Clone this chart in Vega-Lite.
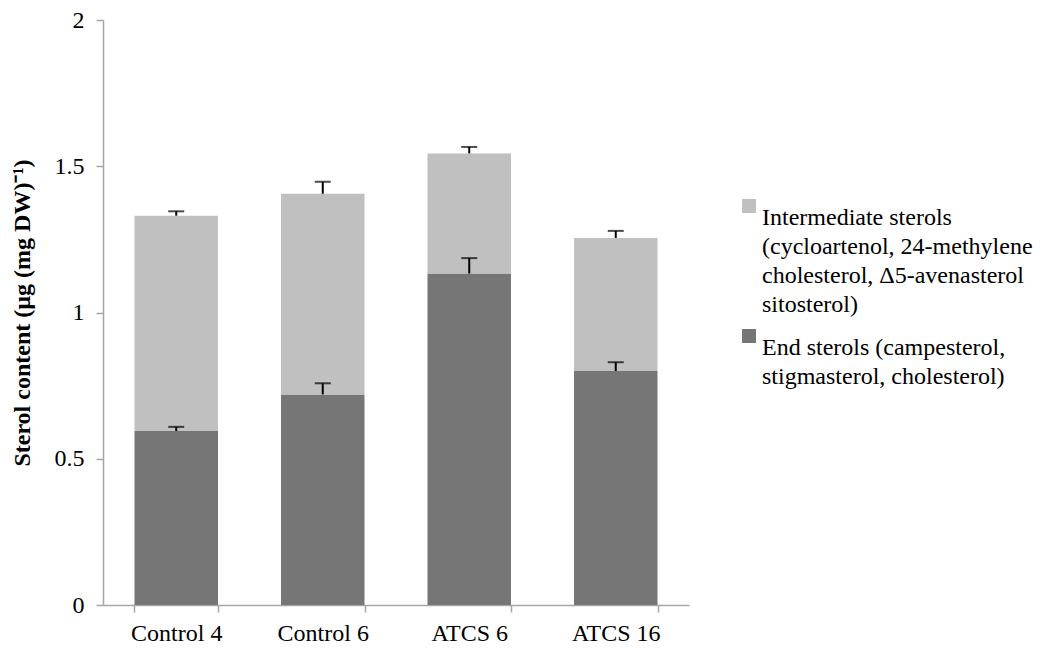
{
  "$schema": "https://vega.github.io/schema/vega-lite/v6.json",
  "width": 586,
  "height": 585,
  "autosize": {"type": "none"},
  "padding": {"left": 103, "top": 20, "right": 366, "bottom": 45},
  "background": "white",
  "config": {
    "font": "Times New Roman",
    "view": {"stroke": null},
    "style": {"guide-label": {"lineHeight": 29}},
    "axis": {"labelColor": "#000000", "domainColor": "#a6a6a6", "tickColor": "#a6a6a6", "domainWidth": 1.5, "tickWidth": 1.5, "grid": false},
    "legend": {"labelColor": "#000000"}
  },
  "datasets": {
    "bars": [
      {"group": "Control 4", "type": "End sterols (campesterol, stigmasterol, cholesterol)", "rank": 1, "value": 0.595},
      {"group": "Control 4", "type": "Intermediate sterols (cycloartenol, 24-methylene cholesterol, Δ5-avenasterol sitosterol)", "rank": 2, "value": 0.736},
      {"group": "Control 6", "type": "End sterols (campesterol, stigmasterol, cholesterol)", "rank": 1, "value": 0.72},
      {"group": "Control 6", "type": "Intermediate sterols (cycloartenol, 24-methylene cholesterol, Δ5-avenasterol sitosterol)", "rank": 2, "value": 0.686},
      {"group": "ATCS 6", "type": "End sterols (campesterol, stigmasterol, cholesterol)", "rank": 1, "value": 1.133},
      {"group": "ATCS 6", "type": "Intermediate sterols (cycloartenol, 24-methylene cholesterol, Δ5-avenasterol sitosterol)", "rank": 2, "value": 0.411},
      {"group": "ATCS 16", "type": "End sterols (campesterol, stigmasterol, cholesterol)", "rank": 1, "value": 0.80},
      {"group": "ATCS 16", "type": "Intermediate sterols (cycloartenol, 24-methylene cholesterol, Δ5-avenasterol sitosterol)", "rank": 2, "value": 0.455}
    ],
    "errors": [
      {"group": "Control 4", "low": 0.595, "high": 0.609},
      {"group": "Control 4", "low": 1.331, "high": 1.346},
      {"group": "Control 6", "low": 0.72, "high": 0.758},
      {"group": "Control 6", "low": 1.406, "high": 1.447},
      {"group": "ATCS 6", "low": 1.133, "high": 1.186},
      {"group": "ATCS 6", "low": 1.544, "high": 1.566},
      {"group": "ATCS 16", "low": 0.80, "high": 0.83},
      {"group": "ATCS 16", "low": 1.255, "high": 1.279}
    ]
  },
  "encoding": {
    "x": {
      "field": "group", "type": "nominal",
      "sort": ["Control 4", "Control 6", "ATCS 6", "ATCS 16"],
      "scale": {"paddingInner": 0.43, "paddingOuter": 0.215},
      "axis": {"title": null, "labelAngle": 0, "labelPadding": 9, "tickSize": 7, "tickBand": "extent", "labelFont": "Times New Roman", "labelFontSize": 24}
    }
  },
  "layer": [
    {
      "data": {"name": "bars"},
      "mark": {"type": "bar"},
      "encoding": {
        "y": {
          "field": "value", "type": "quantitative", "stack": "zero",
          "scale": {"domain": [0, 2]},
          "axis": {"title": "Sterol content (µg (mg DW)⁻¹)", "titleFont": "Times New Roman", "labelFont": "Times New Roman", "labelFontSize": 24, "titleFontWeight": "bold", "titleFontSize": 24, "titleColor": "#000000", "values": [0, 0.5, 1, 1.5, 2], "format": "~g", "tickSize": 7, "labelPadding": 12, "titlePadding": 20}
        },
        "order": {"field": "rank", "type": "quantitative"},
        "color": {
          "field": "type", "type": "nominal",
          "scale": {
            "domain": ["Intermediate sterols (cycloartenol, 24-methylene cholesterol, Δ5-avenasterol sitosterol)", "End sterols (campesterol, stigmasterol, cholesterol)"],
            "range": ["#c0c0c0", "#767676"]
          },
          "legend": {
            "title": null,
            "orient": "none",
            "legendX": 634,
            "legendY": 174,
            "symbolType": "square",
            "symbolSize": 196,
            "symbolStrokeWidth": 0,
            "labelFont": "Times New Roman",
            "labelFontSize": 24,
            "labelLimit": 400,
            "labelOffset": 1,
            "rowPadding": 7,
            "labelBaseline": "top",
            "labelExpr": "datum.label == 'End sterols (campesterol, stigmasterol, cholesterol)' ? ['End sterols (campesterol,', 'stigmasterol, cholesterol)'] : ['Intermediate sterols', '(cycloartenol, 24-methylene', 'cholesterol, Δ5-avenasterol', 'sitosterol)']"
          }
        }
      }
    },
    {
      "data": {"name": "errors"},
      "mark": {"type": "rule", "color": "#000000", "strokeWidth": 2},
      "encoding": {
        "y": {"field": "low", "type": "quantitative"},
        "y2": {"field": "high"}
      }
    },
    {
      "data": {"name": "errors"},
      "mark": {"type": "tick", "color": "#000000", "thickness": 2, "size": 16, "orient": "horizontal"},
      "encoding": {
        "y": {"field": "high", "type": "quantitative"}
      }
    }
  ]
}
